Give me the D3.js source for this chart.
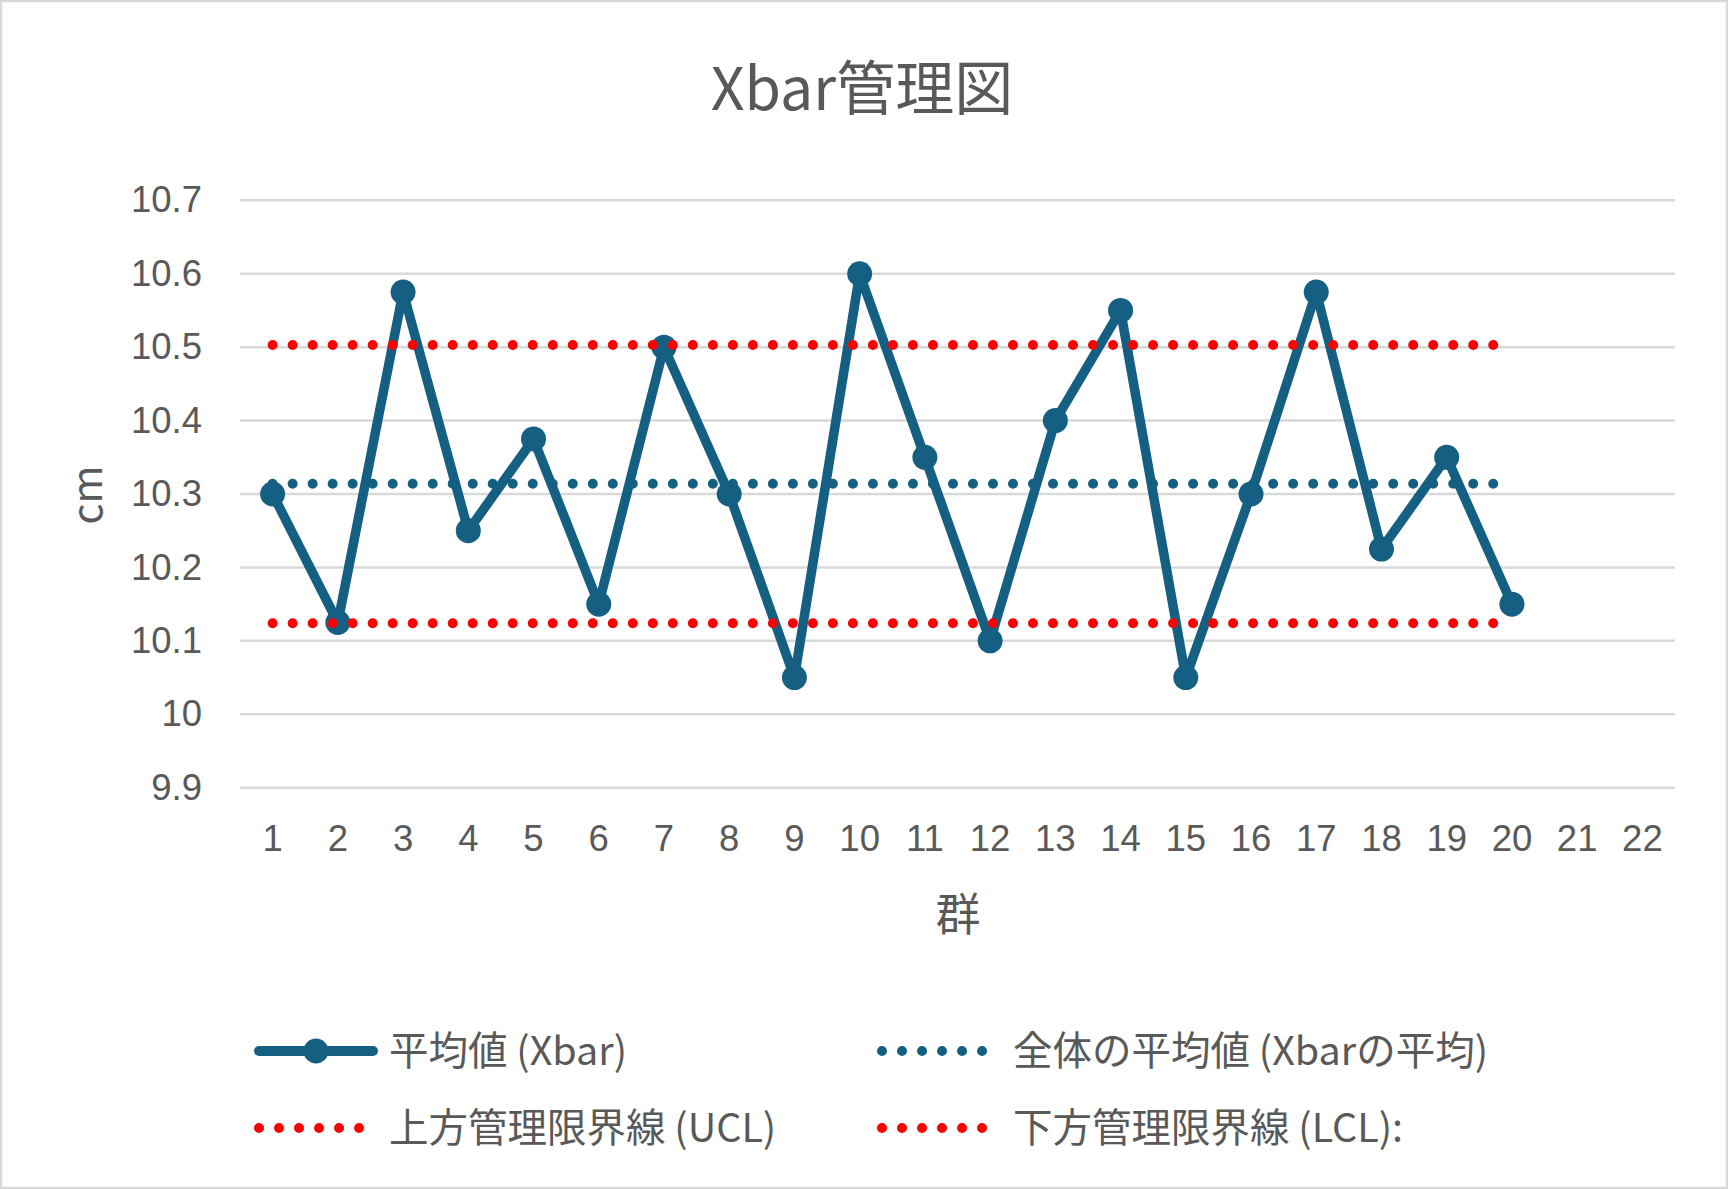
<!DOCTYPE html>
<html>
<head>
<meta charset="utf-8">
<script src="https://cdn.jsdelivr.net/npm/d3@7"></script>
<style>
  body { margin: 0; background: #fff; }
  text { fill: #595959; }
</style>
</head>
<body>
<div id="chart"></div>
<script>
// data
let groups = d3.range(1, 23).map(String);
let xbar = [10.3, 10.125, 10.575, 10.25, 10.375, 10.15, 10.5, 10.3, 10.05, 10.6,
            10.35, 10.1, 10.4, 10.55, 10.05, 10.3, 10.575, 10.225, 10.35, 10.15];
let meanLine = 10.314;
let uclLine = 10.503;
let lclLine = 10.124;
let yTicks = [9.9, 10, 10.1, 10.2, 10.3, 10.4, 10.5, 10.6, 10.7];
let yTickLabels = ["9.9", "10", "10.1", "10.2", "10.3", "10.4", "10.5", "10.6", "10.7"];

let width = 1728,
    height = 1189;

let blue = "#156082",
    red = "#ff0000";

let cjk = "'Noto Sans CJK JP', 'Noto Sans', sans-serif";

let svg = d3.select("#chart")
    .append("svg")
    .attr("width", width)
    .attr("height", height);

svg.append("rect")
    .attr("x", 1).attr("y", 1)
    .attr("width", width - 2).attr("height", height - 2)
    .attr("fill", "#fff")
    .attr("stroke", "#d9d9d9")
    .attr("stroke-width", 2.5);

let x = d3.scaleBand().domain(groups).range([240, 1675]);
let cx = d => x(d) + x.bandwidth() / 2;
let y = d3.scaleLinear().domain([9.9, 10.7]).range([787.7, 200.3]);

// title
svg.append("text")
    .attr("x", 862).attr("y", 110)
    .attr("text-anchor", "middle")
    .style("font-family", cjk)
    .style("font-size", "59px")
    .text("Xbar管理図");

// gridlines
svg.append("g")
    .selectAll("line")
    .data(yTicks)
    .enter().append("line")
    .attr("x1", 240).attr("x2", 1675)
    .attr("y1", d => y(d)).attr("y2", d => y(d))
    .attr("stroke", "#d9d9d9")
    .attr("stroke-width", 2.5);

// axes
let yAxis = d3.axisLeft(y)
    .tickValues(yTicks)
    .tickFormat((d, i) => yTickLabels[i])
    .tickSize(0)
    .tickPadding(38);

let gy = svg.append("g")
    .attr("transform", "translate(240,0)")
    .call(yAxis);
gy.select(".domain").remove();
gy.selectAll("text")
    .style("font-family", "'Liberation Sans', Arial, sans-serif")
    .style("font-size", "36.5px")
    .attr("fill", "#595959");

let xAxis = d3.axisBottom(x)
    .tickSize(0)
    .tickPadding(37);

let gx = svg.append("g")
    .attr("transform", "translate(0,787.7)")
    .call(xAxis);
gx.select(".domain").remove();
gx.selectAll("text")
    .style("font-family", "'Liberation Sans', Arial, sans-serif")
    .style("font-size", "36.5px")
    .attr("fill", "#595959");

// axis titles
svg.append("text")
    .attr("transform", "translate(102,495) rotate(-90)")
    .attr("text-anchor", "middle")
    .style("font-family", cjk)
    .style("font-size", "41px")
    .text("cm");

svg.append("text")
    .attr("x", 958).attr("y", 931)
    .attr("text-anchor", "middle")
    .style("font-family", cjk)
    .style("font-size", "45px")
    .text("群");

// Xbar series
let pts = xbar.map((v, i) => [groups[i], v]);

let line = d3.line()
    .x(d => cx(d[0]))
    .y(d => y(d[1]));

svg.append("path")
    .datum(pts)
    .attr("d", line)
    .attr("fill", "none")
    .attr("stroke", blue)
    .attr("stroke-width", 9.5)
    .attr("stroke-linejoin", "round");

svg.append("g")
    .selectAll("circle")
    .data(pts)
    .enter().append("circle")
    .attr("cx", d => cx(d[0]))
    .attr("cy", d => y(d[1]))
    .attr("r", 12.5)
    .attr("fill", blue);

// center line and control limits
let first = groups[0], last = groups[xbar.length - 1];
let hlines = [
    {v: meanLine, c: blue},
    {v: uclLine, c: red},
    {v: lclLine, c: red}
];

svg.append("g")
    .selectAll("line")
    .data(hlines)
    .enter().append("line")
    .attr("x1", cx(first)).attr("x2", cx(last) - 18)
    .attr("y1", d => y(d.v)).attr("y2", d => y(d.v))
    .attr("stroke", d => d.c)
    .attr("stroke-width", 10)
    .attr("stroke-linecap", "round")
    .attr("stroke-dasharray", "0.01,20");

// legend
let legend = svg.append("g");

legend.append("line")
    .attr("x1", 259).attr("x2", 373)
    .attr("y1", 1051).attr("y2", 1051)
    .attr("stroke", blue)
    .attr("stroke-width", 10)
    .attr("stroke-linecap", "round");
legend.append("circle")
    .attr("cx", 316).attr("cy", 1051).attr("r", 12.5)
    .attr("fill", blue);

let dotted = [
    {x: 259, y: 1128, c: red},
    {x: 882, y: 1051, c: blue},
    {x: 882, y: 1128, c: red}
];
legend.selectAll(".dots")
    .data(dotted)
    .enter().append("line")
    .attr("x1", d => d.x).attr("x2", d => d.x + 100.1)
    .attr("y1", d => d.y).attr("y2", d => d.y)
    .attr("stroke", d => d.c)
    .attr("stroke-width", 10)
    .attr("stroke-linecap", "round")
    .attr("stroke-dasharray", "0.01,20");

let legendText = [
    {x: 389, y: 1051, t: "平均値 (Xbar)"},
    {x: 1013, y: 1051, t: "全体の平均値 (Xbarの平均)"},
    {x: 389, y: 1128, t: "上方管理限界線 (UCL)"},
    {x: 1013, y: 1128, t: "下方管理限界線 (LCL):"}
];
legend.selectAll("text")
    .data(legendText)
    .enter().append("text")
    .attr("x", d => d.x).attr("y", d => d.y)
    .attr("dy", "0.36em")
    .style("font-family", cjk)
    .style("font-size", "39.5px")
    .text(d => d.t);
</script>
</body>
</html>
